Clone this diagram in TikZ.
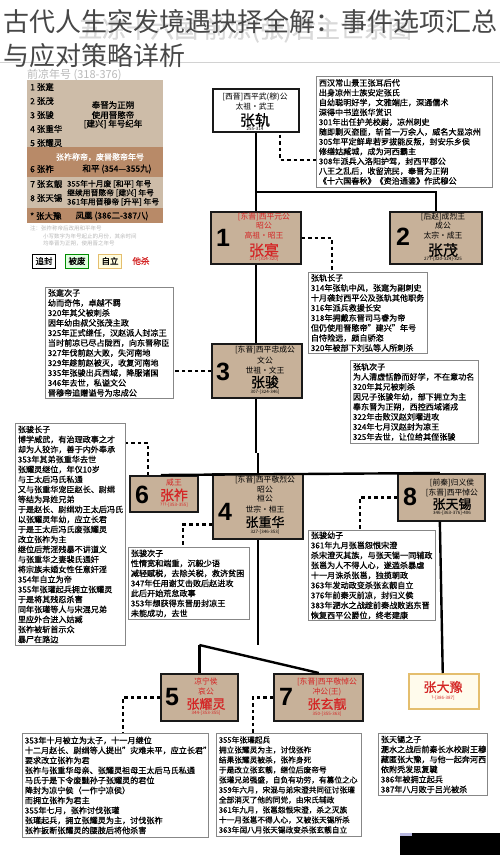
\documentclass[tikz,border=0pt]{standalone}
\usepackage{fontspec}
\setmainfont{Noto Sans CJK SC}[BoldFont={Noto Sans CJK SC},BoldFeatures={FakeBold=0.8}]
\newfontfamily\numfont{Liberation Sans}
\usetikzlibrary{calc}
\definecolor{tanfill}{RGB}{199,177,153}
\definecolor{rowlight}{RGB}{205,188,168}
\definecolor{rowdark}{RGB}{184,138,104}
\definecolor{redtxt}{RGB}{212,38,38}
\definecolor{boxgray}{RGB}{135,135,135}
\definecolor{goldb}{RGB}{228,190,110}
\definecolor{cream}{RGB}{255,251,236}
\tikzset{
  tbox/.style={draw=boxgray, line width=0.8pt, fill=white, anchor=north west, align=left,
    inner xsep=2.5pt, inner ysep=1pt, font=\fontsize{8.1}{10}\selectfont\bfseries},
  kbox/.style={draw=black!90, line width=1.7pt, fill=tanfill, anchor=north west, inner sep=0pt},
  trunk/.style={line width=2.4pt, black},
  dotline/.style={line width=2.7pt, black, dash pattern=on 3.5pt off 3pt},
  num/.style={font=\numfont\bfseries\fontsize{25}{25}\selectfont, inner sep=0pt},
  ttl/.style={font=\fontsize{7.8}{8}\selectfont, inner sep=0pt},
  big/.style={font=\bfseries\fontsize{14}{14}\selectfont, inner sep=0pt},
  tiny/.style={font=\fontsize{4.5}{5}\selectfont, inner sep=0pt},
  lg/.style={font=\bfseries\fontsize{8.5}{9}\selectfont, anchor=west, inner sep=0pt},
  lgc/.style={font=\bfseries\fontsize{8.5}{9}\selectfont, inner sep=0pt},
  lgs/.style={font=\bfseries\fontsize{7.8}{8}\selectfont, anchor=west, inner sep=0pt},
  note/.style={font=\fontsize{5.5}{6}\selectfont, text=gray!55, anchor=west, inner sep=0pt},
  tag/.style={font=\bfseries\fontsize{8.5}{9}\selectfont, line width=1pt, minimum width=23pt, minimum height=14pt, inner sep=0pt},
}
\begin{document}
\begin{tikzpicture}[x=1pt,y=-1pt]
\useasboundingbox (0,0) rectangle (500,855);
\fill[white] (0,0) rectangle (500,855);

% faint background heading and title
\node[font=\bfseries\fontsize{24}{24}\selectfont, text=gray!30, inner sep=0pt] (wm) at (245,30) {五凉十六国 前凉(张)君主世系图};
\node[anchor=west, font=\fontsize{11}{11}\selectfont, text=gray!55, inner sep=0pt] (lgh) at (27,75) {前凉年号 (318-376)};
\draw[gray!35, line width=0.8pt] (0,62) -- (500,62);
\node[anchor=west, font=\fontsize{26}{26}\selectfont, text=black!72, inner sep=0pt] (t1) at (3,22) {古代人生突发境遇抉择全解：事件选项汇总};
\node[anchor=west, font=\fontsize{26}{26}\selectfont, text=black!72, inner sep=0pt] (t2) at (3,56) {与应对策略详析};

% legend table
\fill[rowlight] (27,80) rectangle (163,147);
\fill[rowdark] (27,147) rectangle (163,177);
\fill[rowlight] (27,177) rectangle (163,208);
\fill[rowdark] (27,208) rectangle (163,223);
\node[lg] (l1) at (30,87) {1 张寔};
\node[lg] (l2) at (30,101) {2 张茂};
\node[lg] (l3) at (30,115) {3 张骏};
\node[lg] (l4) at (30,129) {4 张重华};
\node[lg] (l5) at (30,143) {5 张耀灵};
\node[lgc] (la) at (113,105) {奉晋为正朔};
\node[lgc] (lb) at (113,115) {使用晋愍帝};
\node[lgc] (lc) at (113,124) {[建兴] 年号纪年};
\node[lgc, text=white, font=\bfseries\fontsize{8}{8}\selectfont] (ld) at (100,157) {张祚称帝，废晋愍帝年号};
\node[lg] (l6) at (30,169) {6 张祚};
\node[lgc] (le) at (117,169) {和平 (354—355九)};
\node[lg] (l7) at (30,184) {7 张玄靓};
\node[lg] (l8) at (30,198) {8 张天锡};
\node[lgs] (lf) at (67,184) {355年十月废 [和平] 年号};
\node[lgs] (lg1) at (67,193) {继续用晋愍帝 [建兴] 年号};
\node[lgs] (lh) at (67,202) {361年用晋穆帝 [升平] 年号};
\node[lg] (l9) at (30,216) {* 张大豫};
\node[lgc] (li) at (112,216) {凤凰 (386二-387八)};
\node[note] (nt1) at (30,228) {注：张祚称帝后改用和平年号};
\node[note] (nt2) at (43,236) {小写数字为年号起止的月份，其余时间};
\node[note] (nt3) at (43,243) {均奉晋为正朔，使用晋之年号};
\node[tag, draw=black, fill=white] (k1) at (44,261) {追封};
\node[tag, draw=green!55!black, fill=green!12] (k2) at (77,261) {被废};
\node[tag, draw=goldb, fill=yellow!12] (k3) at (110,261) {自立};
\node[font=\bfseries\fontsize{8.5}{9}\selectfont, text=redtxt, inner sep=0pt] (k4) at (141,261) {他杀};

% ===== ruler nodes =====
\node[kbox, fill=white, minimum width=86pt, minimum height=43pt] (g) at (212,88) {};
\node[ttl] (ga) at (255,97) {[西晋]西平武(穆)公};
\node[ttl] (gb) at (255,107) {太祖·武王};
\node[big, font=\bfseries\fontsize{15}{15}\selectfont] (gc) at (255,120) {张轨};
\node[tiny] (gd) at (255,129) {255-314};

\node[kbox, minimum width=90pt, minimum height=52pt] (n1) at (210,211) {};
\node[num] (n1n) at (223,238) {1};
\node[ttl, text=redtxt] (n1a) at (264,217) {[东晋]西平元公};
\node[ttl, text=redtxt] (n1b) at (264,226) {昭公};
\node[ttl, text=redtxt] (n1c) at (264,236) {高祖·昭王};
\node[big, text=redtxt, font=\bfseries\fontsize{15}{15}\selectfont] (n1d) at (264,250) {张寔};
\node[tiny, text=redtxt] (n1e) at (264,259) {271-[314-320]};

\node[kbox, minimum width=92pt, minimum height=52pt] (n2) at (389,211) {};
\node[num] (n2n) at (403,237) {2};
\node[ttl] (n2a) at (443,217) {[后赵]成烈王};
\node[ttl] (n2b) at (443,226) {成公};
\node[ttl] (n2c) at (443,236) {太宗·成王};
\node[big, font=\bfseries\fontsize{15}{15}\selectfont] (n2d) at (443,250) {张茂};
\node[tiny] (n2e) at (443,259) {277-[320-324]-325};

\node[kbox, minimum width=90pt, minimum height=54pt] (n3) at (211,343) {};
\node[num] (n3n) at (223,372) {3};
\node[ttl] (n3a) at (265,350) {[东晋]西平忠成公};
\node[ttl] (n3b) at (265,360) {文公};
\node[ttl] (n3c) at (265,370) {世祖·文王};
\node[big] (n3d) at (265,382) {张骏};
\node[tiny] (n3e) at (265,392) {307-[324-346]};

\node[kbox, minimum width=68pt, minimum height=36pt] (n6) at (129,475) {};
\node[num] (n6n) at (142,495) {6};
\node[ttl, text=redtxt] (n6a) at (174,483) {威王};
\node[big, text=redtxt] (n6b) at (174,495) {张祚};
\node[tiny, text=redtxt] (n6c) at (174,505) {???-[353-355]};

\node[kbox, minimum width=90pt, minimum height=65pt] (n4) at (212,473) {};
\node[num] (n4n) at (225,512) {4};
\node[ttl] (n4a) at (265,480) {[东晋]西平敬烈公};
\node[ttl] (n4b) at (265,490) {昭公};
\node[ttl] (n4c) at (265,499) {桓公};
\node[ttl] (n4d) at (265,509) {世宗·桓王};
\node[big, font=\bfseries\fontsize{13}{13}\selectfont] (n4e) at (265,522) {张重华};
\node[tiny] (n4f) at (265,532) {327-[346-353]};

\node[kbox, minimum width=87pt, minimum height=47pt] (n8) at (397,473) {};
\node[num] (n8n) at (410,497) {8};
\node[ttl] (n8a) at (452,483) {[前秦]归义侯};
\node[ttl] (n8b) at (452,493) {[东晋]西平悼公};
\node[big, font=\bfseries\fontsize{13}{13}\selectfont] (n8c) at (452,504) {张天锡};
\node[tiny] (n8d) at (452,513) {346-[363-376]-406};

\node[kbox, minimum width=77pt, minimum height=47pt] (n5) at (160,673) {};
\node[num] (n5n) at (172,697) {5};
\node[ttl, text=redtxt] (n5a) at (206,682) {凉宁侯};
\node[ttl, text=redtxt] (n5b) at (206,692) {哀公};
\node[big, text=redtxt, font=\bfseries\fontsize{13}{13}\selectfont] (n5c) at (206,704) {张耀灵};
\node[tiny, text=redtxt] (n5d) at (206,713) {344-[353-355]};

\node[kbox, minimum width=89pt, minimum height=47pt] (n7) at (273,673) {};
\node[num] (n7n) at (286,697) {7};
\node[ttl, text=redtxt] (n7a) at (327,682) {[东晋]西平敬悼公};
\node[ttl, text=redtxt] (n7b) at (327,692) {冲公(王)};
\node[big, text=redtxt, font=\bfseries\fontsize{13}{13}\selectfont] (n7c) at (327,704) {张玄靓};
\node[tiny, text=redtxt] (n7d) at (327,714) {350-[355-363]};

\node[kbox, draw=goldb, fill=cream, line width=1.5pt, minimum width=70pt, minimum height=35pt] (n9) at (408,673) {};
\node[big, text=redtxt, font=\bfseries\fontsize{13}{13}\selectfont] (n9a) at (443,687) {张大豫};
\node[tiny, text=redtxt] (n9b) at (443,698) {?-[386-387]};

% ===== text boxes =====
\node[tbox, font=\fontsize{8.1}{9.8}\selectfont\bfseries, text width=171pt, minimum height=111pt] (tb0) at (316,76) {西汉常山景王张耳后代\\出身凉州士族安定张氏\\自幼聪明好学，文雅端庄，深通儒术\\深得中书监张华赏识\\301年出任护羌校尉，凉州刺史\\随即剿灭盗匪，斩首一万余人，威名大显凉州\\305年平定鲜卑若罗拔能反叛，封安乐乡侯\\修缮姑臧城，成为河西霸主\\308年派兵入洛阳护驾，封西平郡公\\八王之乱后，收留流民，奉晋为正朔\\《十六国春秋》《资治通鉴》作武穆公};

\node[tbox, text width=114pt, minimum height=81pt] (tb1) at (308,272) {张轨长子\\314年张轨中风，张寔为副刺史\\十月袭封西平公及张轨其他职务\\316年派兵救援长安\\318年拥戴东晋司马睿为帝\\但仍使用晋愍帝"建兴"年号\\自恃险远，颇自骄恣\\320年被部下刘弘等人所刺杀};

\node[tbox, text width=123pt, minimum height=83pt] (tb2) at (350,360) {张轨次子\\为人清虚恬静而好学，不在意功名\\320年其兄被刺杀\\因兄子张骏年幼，部下拥立为主\\奉东晋为正朔，西控西域诸戎\\322年击败汉赵刘曜进攻\\324年七月汉赵封为凉王\\325年去世，让位给其侄张骏};

\node[tbox, text width=123pt, minimum height=111pt] (tb3) at (45,287) {张寔次子\\幼而奇伟，卓越不羁\\320年其父被刺杀\\因年幼由叔父张茂主政\\325年正式继任，汉赵派人封凉王\\当时前凉已尽占陇西，向东晋称臣\\327年伐前赵大败，失河南地\\329年趁前赵被灭，收复河南地\\335年张骏出兵西域，降服诸国\\346年去世，私谥文公\\晋穆帝追赠谥号为忠成公};

\node[tbox, text width=105pt, minimum height=222pt] (tb6) at (15,423) {张骏长子\\博学威武，有治理政事之才\\却为人狡诈，善于内外奉承\\353年其弟张重华去世\\张耀灵继位，年仅10岁\\与王太后冯氏私通\\又与张重华宠臣赵长、尉缉\\等结为异姓兄弟\\于是赵长、尉缉劝王太后冯氏\\以张耀灵年幼，应立长君\\于是王太后冯氏废张耀灵\\改立张祚为主\\继位后荒淫残暴不讲道义\\与张重华之妻裴氏通奸\\将宗族未婚女性任意奸淫\\354年自立为帝\\355年张瓘起兵拥立张耀灵\\于是将其残忍杀害\\同年张瓘等人与宋混兄弟\\里应外合进入姑臧\\张祚被斩首示众\\暴尸在路边};

\node[tbox, text width=116pt, minimum height=72pt] (tb4) at (128,547) {张骏次子\\性情宽和端重，沉毅少语\\减轻赋税，去除关税，救济贫困\\347年任用谢艾击败后赵进攻\\此后开始荒怠政事\\353年想获得东晋册封凉王\\未能成功，去世};

\node[tbox, text width=122pt, minimum height=90pt] (tb8) at (308,530) {张骏幼子\\361年九月张邕怨恨宋澄\\杀宋澄灭其族，与张天锡一同辅政\\张邕为人不得人心，遂滥杀暴虐\\十一月诛杀张邕，独揽朝政\\363年发动政变杀张玄靓自立\\376年前秦灭前凉，封归义侯\\383年淝水之战趁前秦战败逃东晋\\恢复西平公爵位，终老建康};

\node[tbox, text width=181pt, minimum height=104pt] (tb5) at (22,733) {353年十月被立为太子，十一月继位\\十二月赵长、尉缉等人提出"灾难未平，应立长君"\\要求改立张祚为君\\张祚与张重华母亲、张耀灵祖母王太后马氏私通\\马氏于是下令废黜孙子张耀灵的君位\\降封为凉宁侯（一作宁凉侯）\\而拥立张祚为君主\\355年七月，张祚讨伐张瓘\\张瓘起兵，拥立张耀灵为主，讨伐张祚\\张祚扳断张耀灵的腰肢后将他杀害};

\node[tbox, font=\fontsize{7.7}{10}\selectfont\bfseries, text width=140pt, minimum height=103pt] (tb7) at (216,733) {355年张瓘起兵\\拥立张耀灵为主，讨伐张祚\\结果张耀灵被杀，张祚身死\\于是改立张玄靓，继位后废帝号\\张瓘兄弟强盛，自负有功劳，有篡位之心\\359年六月，宋混与弟宋澄共同征讨张瓘\\全部消灭了他的同党，由宋氏辅政\\361年九月，张邕怨恨宋澄，杀之灭族\\十一月张邕不得人心，又被张天锡所杀\\363年闰八月张天锡政变杀张玄靓自立};

\node[tbox, text width=104pt, minimum height=62pt] (tb9) at (378,733) {张天锡之子\\淝水之战后前秦长水校尉王穆\\藏匿张大豫，与他一起奔河西\\依附秃发思复鞬\\386年被拥立起兵\\387年八月败于吕光被杀};

% ===== trunk lines =====
\coordinate (bus1) at (0,192);
\coordinate (bus2) at (0,453);
\coordinate (bus3) at (0,645);
\draw[trunk] (n1.north |- g.south) -- (n1.north |- bus1) -| (n2.north);
\draw[trunk] (n1.north |- bus1) -- (n1.north);
\draw[trunk] (n1.south) -- (n1.south |- n3.north);
\draw[trunk] (n1.south |- n3.south) -- (n1.south |- bus2);
\draw[trunk] ($(n6.north)+(-3,0)$ |- bus2) -- ($(n8.north)+(-1.5,0)$ |- bus2);
\draw[trunk] ($(n6.north)+(-3,0)$ |- bus2) -- ($(n6.north)+(-3,0)$);
\draw[trunk] (n4.north |- bus2) -- (n4.north);
\draw[trunk] ($(n8.north)+(-1.5,0)$ |- bus2) -- ($(n8.north)+(-1.5,0)$);
\draw[trunk] (n4.south) -- (n4.south |- bus3);
\draw[trunk] (n5.north |- bus3) -- ($(n7.north)+(0.5,0)$ |- bus3);
\draw[trunk] (n5.north |- bus3) -- (n5.north);
\draw[trunk] ($(n7.north)+(0.5,0)$ |- bus3) -- ($(n7.north)+(0.5,0)$);
\draw[trunk] ($(n8.south)+(-1.5,0)$) -- ($(n9.north)+(-1,0)$);

% ===== dotted connectors =====
\coordinate (d0) at (0,160);
\draw[dotline] ($(g.south west)+(68,2)$) |- (tb0.west |- d0);
\draw[dotline] (n1.east) -| ($(tb1.north west)+(24,0)$);
\draw[dotline] ($(n2.south)+(22,0)$) -- ($(n2.south)+(22,0)$ |- tb2.north);
\draw[dotline] (n3.west) -- (tb3.east |- n3.west);
\draw[dotline] ($(n6.north west)+(19,0)$) |- ($(tb6.north east)+(0,20)$);
\draw[dotline] ($(n4.south west)+(0,-15)$) -| ($(tb4.north west)+(55,0)$);
\draw[dotline] (n8.west) -| ($(tb8.north west)+(52,0)$);
\draw[dotline] (n5.west) -| ($(tb5.north west)+(101,0)$);
\draw[dotline] (n7.west) -| ($(tb7.north west)+(37,0)$);
\draw[dotline] ($(n9.south)+(15,0)$) -- ($(n9.south)+(15,0)$ |- tb9.north);

% bottom-right dark patch
\fill[black] (400,833) rectangle (500,855);
\fill[gray!60!blue!40] (400,833) rectangle (412,836);
\end{tikzpicture}
\end{document}
